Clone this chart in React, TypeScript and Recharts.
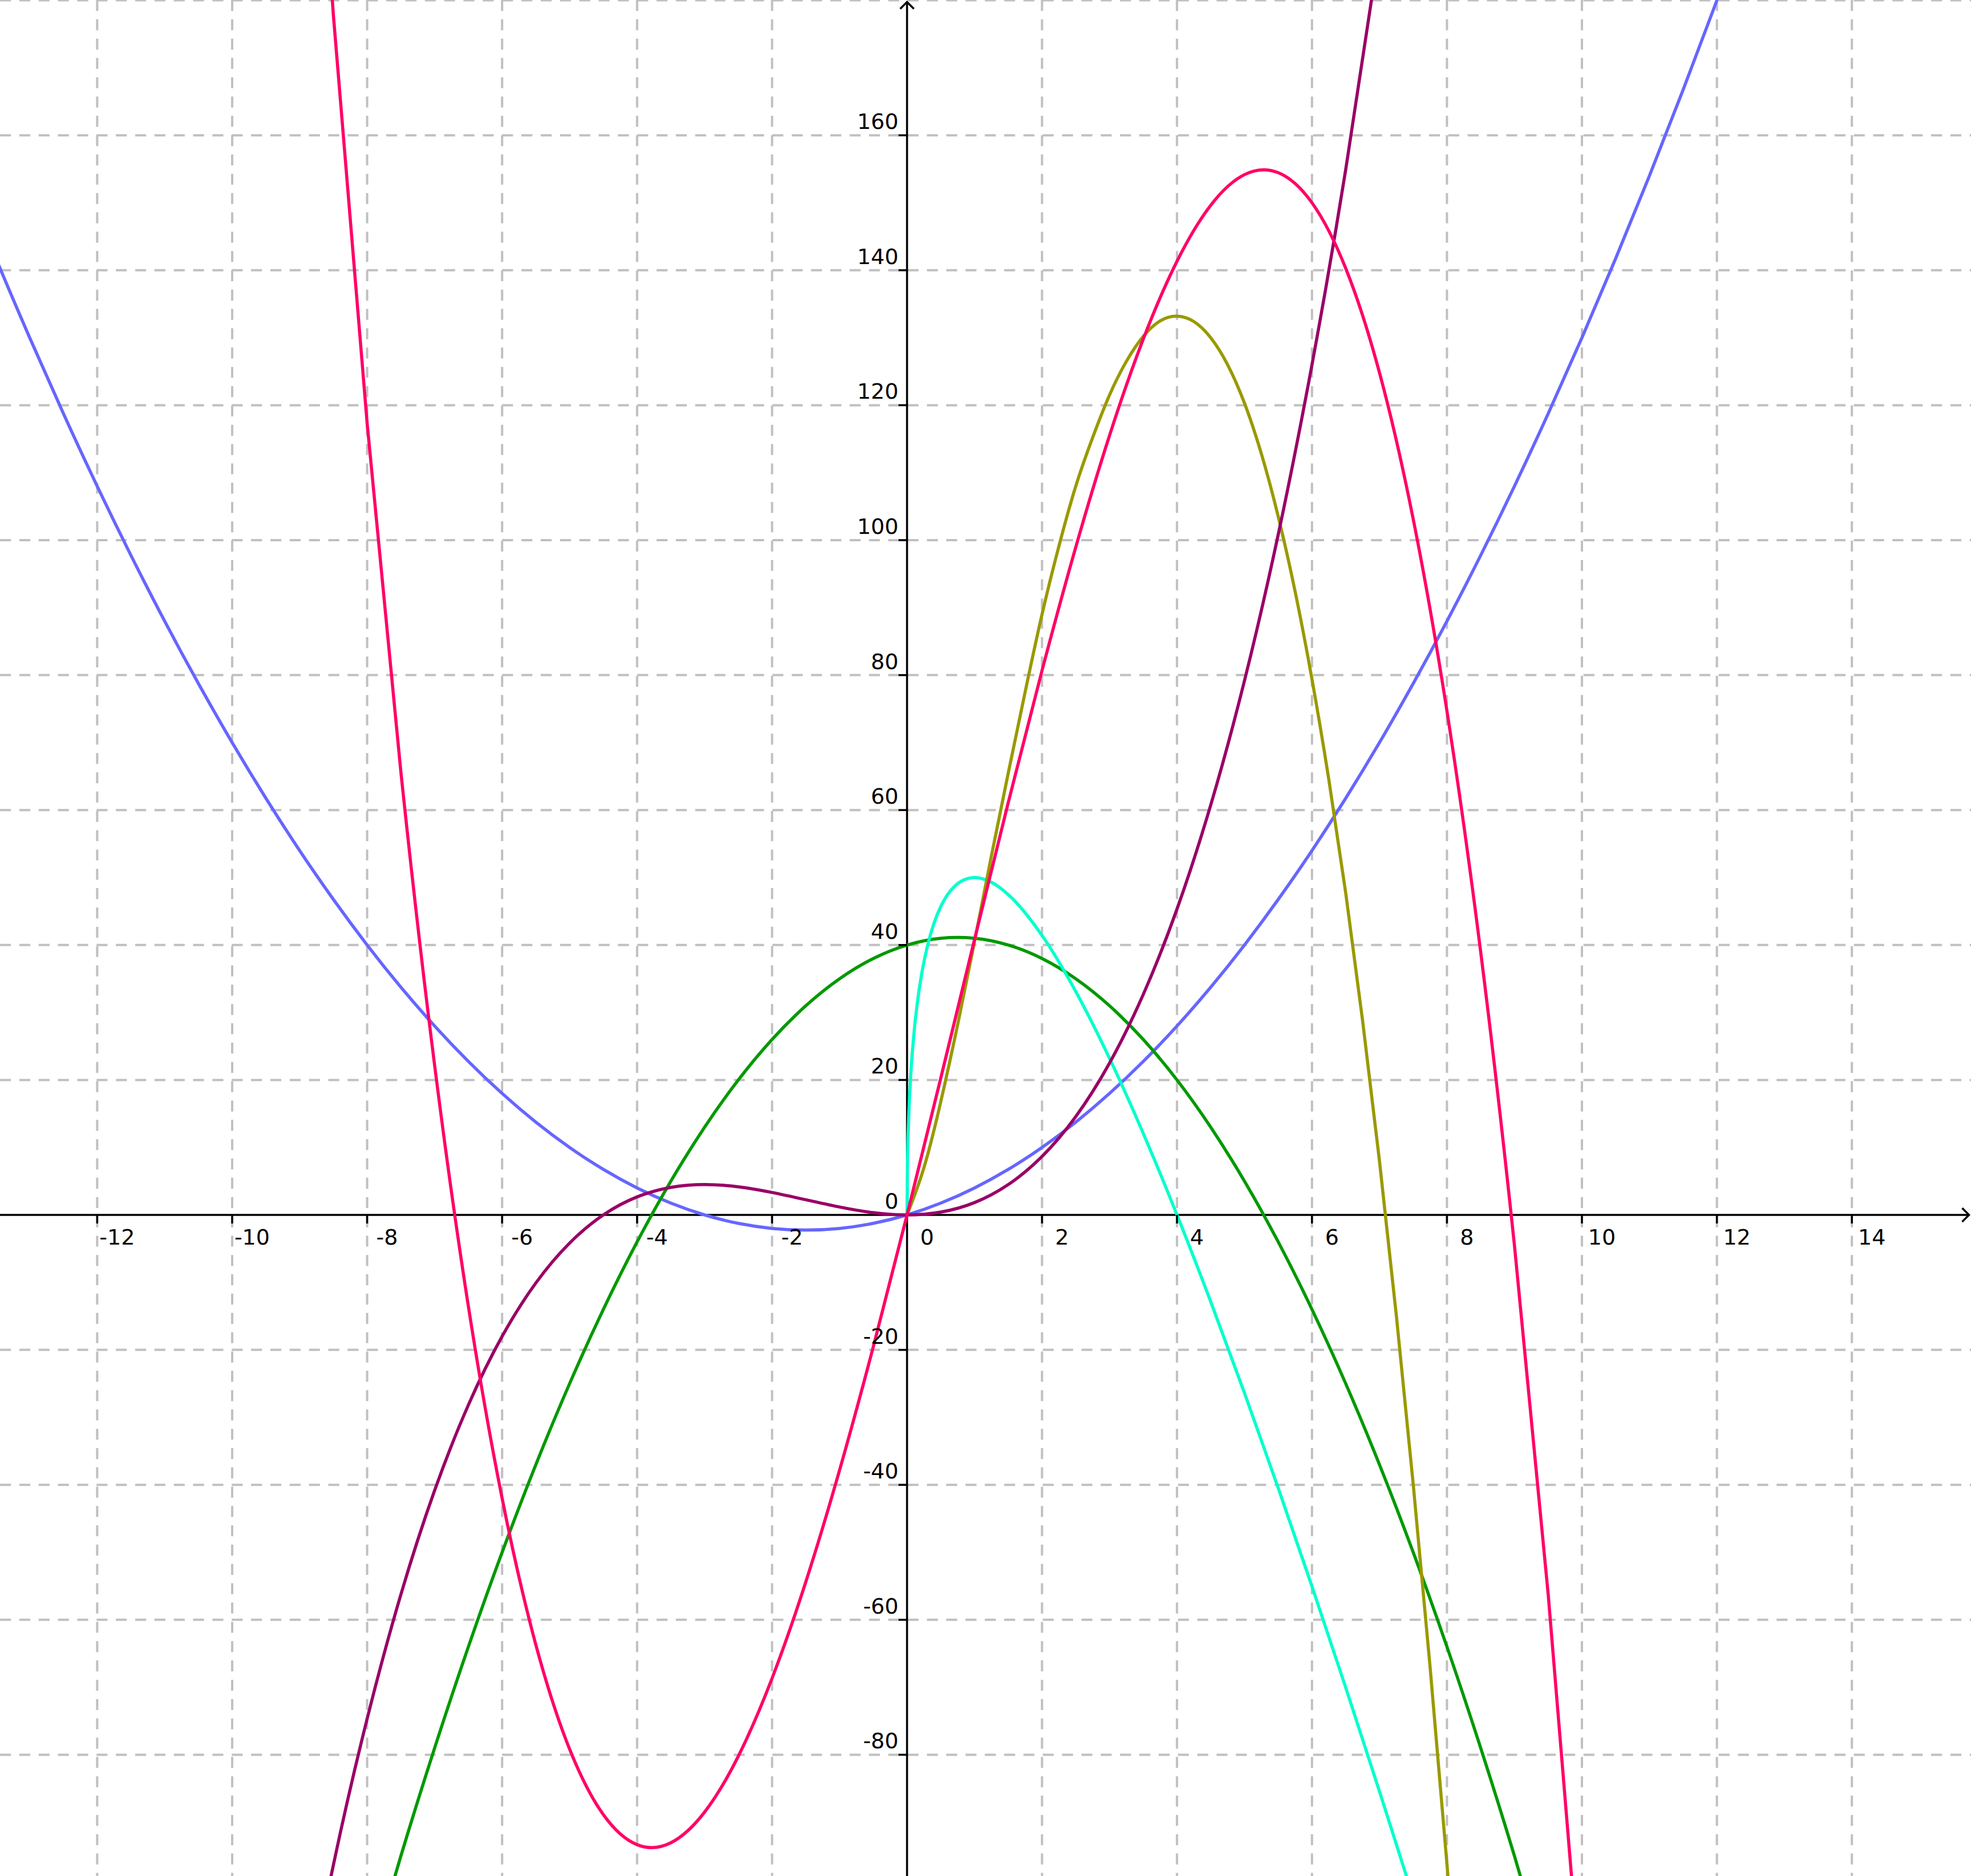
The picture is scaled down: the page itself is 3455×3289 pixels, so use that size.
import React from "react";
import { LineChart, Line, XAxis, YAxis, ReferenceLine, ReferenceDot } from "recharts";

const W = 3455;
const H = 3289;

const X_DOMAIN = [-13.44, 15.765];
const Y_DOMAIN = [-97.97, 180.05];

const xTicks = [-12, -10, -8, -6, -4, -2, 2, 4, 6, 8, 10, 12, 14];
const yTicks = [-80, -60, -40, -20, 20, 40, 60, 80, 100, 120, 140, 160];
const yGridLines = [-80, -60, -40, -20, 20, 40, 60, 80, 100, 120, 140, 160, 180];

// blue parabola
const blueX = [-14, -13.5, -13, -12.5, -12, -11.5, -11, -10.5, -10, -9.5, -9, -8.5, -8, -7.5, -7, -6.5, -6, -5.5, -5, -4.5, -4, -3.5, -3, -2.5, -2, -1.5, -1, -0.5, 0, 0.5, 1, 1.5, 2, 2.5, 3, 3.5, 4, 4.5, 5, 5.5, 6, 6.5, 7, 7.5, 8, 8.5, 9, 9.5, 10, 10.5, 11, 11.5, 12, 12.5];
const blueY = [154, 141.75, 130, 118.75, 108, 97.75, 88, 78.75, 70, 61.75, 54, 46.75, 40, 33.75, 28, 22.75, 18, 13.75, 10, 6.75, 4, 1.75, 0, -1.25, -2, -2.25, -2, -1.25, 0, 1.75, 4, 6.75, 10, 13.75, 18, 22.75, 28, 33.75, 40, 46.75, 54, 61.75, 70, 78.75, 88, 97.75, 108, 118.75, 130, 141.75, 154, 166.75, 180, 193.75];

// red cubic
const redX = [-9, -8.5, -8, -7.5, -7, -6.5, -6, -5.5, -5, -4.5, -4, -3.5, -3, -2.5, -2, -1.5, -1, -0.5, 0, 0.5, 1, 1.5, 2, 2.5, 3, 3.5, 4, 4.5, 5, 5.5, 6, 6.5, 7, 7.5, 8, 8.5, 9, 9.5, 10];
const redY = [247.5, 177.79, 117.33, 65.63, 22.17, -13.54, -42, -63.71, -79.17, -88.88, -93.33, -93.04, -88.5, -80.21, -68.67, -54.38, -37.83, -19.54, 0, 20.29, 40.83, 61.13, 80.67, 98.96, 115.5, 129.79, 141.33, 149.63, 154.17, 154.46, 150, 140.29, 124.83, 103.13, 74.67, 38.96, -4.5, -56.21, -116.67];

// purple cubic
const purpleX = [-9, -8.5, -8, -7.5, -7, -6.5, -6, -5.5, -5, -4.5, -4, -3.5, -3, -2.5, -2, -1.5, -1, -0.5, 0, 0.5, 1, 1.5, 2, 2.5, 3, 3.5, 4, 4.5, 5, 5.5, 6, 6.5, 7];
const purpleY = [-121.5, -96.33, -74.67, -56.25, -40.83, -28.17, -18, -10.08, -4.17, 0, 2.67, 4.08, 4.5, 4.17, 3.33, 2.25, 1.17, 0.33, 0, 0.42, 1.83, 4.5, 8.67, 14.58, 22.5, 32.67, 45.33, 60.75, 79.17, 100.83, 126, 154.92, 187.83];

// green parabola
const greenX = [-8, -7.5, -7, -6.5, -6, -5.5, -5, -4.5, -4, -3.5, -3, -2.5, -2, -1.5, -1, -0.5, 0, 0.5, 1, 1.5, 2, 2.5, 3, 3.5, 4, 4.5, 5, 5.5, 6, 6.5, 7, 7.5, 8, 8.5, 9, 9.5];
const greenY = [-112, -95, -79, -64, -50, -37, -25, -14, -4, 5, 13, 20, 26, 31, 35, 38, 40, 41, 41, 40, 38, 35, 31, 26, 20, 13, 5, -4, -14, -25, -37, -50, -64, -79, -95, -112];

// cyan (root shaped)
const cyanX = [0, 0.005, 0.02, 0.05, 0.1, 0.15, 0.2, 0.3, 0.4, 0.5, 0.6, 0.7, 0.8, 1, 1.25, 1.5, 2, 2.5, 3, 3.5, 4, 4.5, 5, 5.5, 6, 6.5, 7, 7.5];
const cyanY = [0, 6.82, 13.14, 19.86, 26.62, 31.23, 34.72, 39.77, 43.25, 45.71, 47.46, 48.67, 49.44, 50, 49.3, 47.47, 41.42, 33.11, 23.21, 12.08, 0, -12.87, -26.39, -40.48, -55.05, -70.05, -85.42, -101.14];

// olive
const oliveX = [0, 0.25, 0.5, 0.75, 1, 1.25, 1.5, 1.75, 2, 2.25, 2.5, 2.75, 3, 3.25, 3.5, 3.75, 4, 4.25, 4.5, 4.75, 5, 5.25, 5.5, 5.75, 6, 6.25, 6.5, 6.75, 7, 7.25, 7.5, 7.75, 8, 8.25];
const oliveY = [0, 7, 16.8, 28.2, 40.5, 53.2, 65.5, 77.5, 89, 99.1, 108, 115.2, 121.5, 126.5, 130.2, 132.5, 133.2, 132.4, 130, 126, 120.3, 112.8, 103.5, 92.4, 79.4, 64.5, 47.7, 28.8, 8, -14.9, -39.9, -67, -96.2, -127.6];

const toPoints = (xs: number[], ys: number[]) => xs.map((x, i) => ({ x, y: ys[i] }));

const series = [
  { name: "blue", color: "#6666ff", data: toPoints(blueX, blueY), type: "natural" },
  { name: "green", color: "#009900", data: toPoints(greenX, greenY), type: "natural" },
  { name: "cyan", color: "#00ffcc", data: toPoints(cyanX, cyanY), type: "monotone" },
  { name: "olive", color: "#999900", data: toPoints(oliveX, oliveY), type: "natural" },
  { name: "purple", color: "#990066", data: toPoints(purpleX, purpleY), type: "natural" },
  { name: "red", color: "#ff0066", data: toPoints(redX, redY), type: "natural" },
];

const FONT = "'DejaVu Sans', sans-serif";
const AXIS_W = 3.5;

const GridShape = (p: any) => (
  <line
    x1={Math.min(p.x1, p.x2)}
    y1={Math.min(p.y1, p.y2)}
    x2={Math.max(p.x1, p.x2)}
    y2={Math.max(p.y1, p.y2)}
    stroke="#c0c0c0"
    strokeWidth={4}
    strokeDasharray="19.2 14.65"
  />
);

const HorizontalAxis = (p: any) => {
  const left = Math.min(p.x1, p.x2);
  const right = Math.max(p.x1, p.x2) - 3.5;
  const y = p.y1;
  return (
    <g>
      <line x1={left} y1={y} x2={right} y2={y} stroke="#000" strokeWidth={AXIS_W} />
      <polyline
        points={`${right - 12},${y - 12} ${right},${y} ${right - 12},${y + 12}`}
        fill="none"
        stroke="#000"
        strokeWidth={AXIS_W}
      />
    </g>
  );
};

const VerticalAxis = (p: any) => {
  const top = Math.min(p.y1, p.y2) + 3.5;
  const bottom = Math.max(p.y1, p.y2);
  const x = p.x1;
  return (
    <g>
      <line x1={x} y1={top} x2={x} y2={bottom} stroke="#000" strokeWidth={AXIS_W} />
      <polyline
        points={`${x - 12},${top + 12} ${x},${top} ${x + 12},${top + 12}`}
        fill="none"
        stroke="#000"
        strokeWidth={AXIS_W}
      />
    </g>
  );
};

const xTickShape = (label: string, withMark: boolean) => (p: any) => (
  <g>
    {withMark && <line x1={p.cx} y1={p.cy} x2={p.cx} y2={p.cy + 15} stroke="#000" strokeWidth={AXIS_W} />}
    <text x={p.cx + 35} y={p.cy + 52} textAnchor="middle" fontSize={38} fontFamily={FONT} fill="#000">
      {label}
    </text>
  </g>
);

const yTickShape = (label: string, withMark: boolean) => (p: any) => (
  <g>
    {withMark && <line x1={p.cx - 15} y1={p.cy} x2={p.cx} y2={p.cy} stroke="#000" strokeWidth={AXIS_W} />}
    <text x={p.cx - 15} y={p.cy - 11} textAnchor="end" fontSize={38} fontFamily={FONT} fill="#000">
      {label}
    </text>
  </g>
);

export default function App() {
  return (
    <div style={{ position: "absolute", left: 0, top: 0, background: "#fff" }}>
      <LineChart width={W} height={H} margin={{ top: 0, right: 0, bottom: 0, left: 0 }}>
        <XAxis type="number" dataKey="x" domain={X_DOMAIN} allowDataOverflow hide />
        <YAxis type="number" dataKey="y" domain={Y_DOMAIN} allowDataOverflow hide />

        {xTicks.map((v) => (
          <ReferenceLine key={`gx${v}`} x={v} shape={GridShape} />
        ))}
        {yGridLines.map((v) => (
          <ReferenceLine key={`gy${v}`} y={v} shape={GridShape} />
        ))}

        <ReferenceLine y={0} shape={HorizontalAxis} />
        <ReferenceLine x={0} shape={VerticalAxis} />

        {xTicks.map((v) => (
          <ReferenceDot key={`tx${v}`} x={v} y={0} r={0} shape={xTickShape(String(v), true)} />
        ))}
        <ReferenceDot x={0} y={0} r={0} shape={xTickShape("0", false)} />
        {yTicks.map((v) => (
          <ReferenceDot key={`ty${v}`} x={0} y={v} r={0} shape={yTickShape(String(v), true)} />
        ))}
        <ReferenceDot x={0} y={0} r={0} shape={yTickShape("0", false)} />

        {series.map((s) => (
          <Line
            key={s.name}
            data={s.data}
            dataKey="y"
            type={s.type as any}
            stroke={s.color}
            strokeWidth={5.5}
            dot={false}
            activeDot={false}
            isAnimationActive={false}
          />
        ))}
      </LineChart>
    </div>
  );
}
